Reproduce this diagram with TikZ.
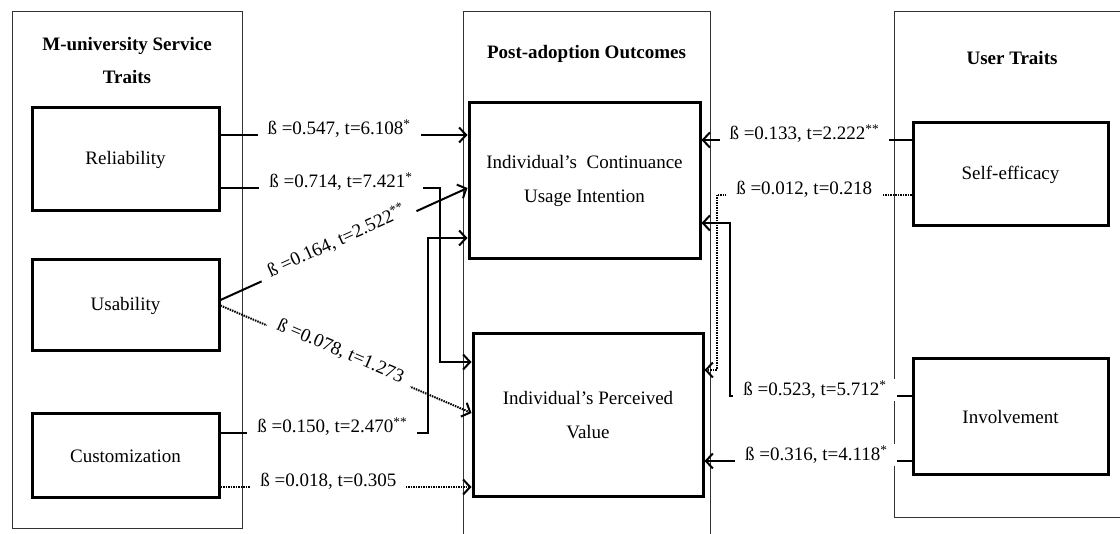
\documentclass[tikz,border=0pt]{standalone}
\usepackage{fontspec}
\setmainfont{Liberation Serif}
\usetikzlibrary{positioning, arrows.meta}

\begin{document}
\begin{tikzpicture}[x=1pt, y=-1pt, >={Straight Barb[length=7pt,width=15pt]},
  grp/.style={draw=black!80, line width=1pt, inner sep=0pt},
  ttl/.style={align=center, font=\bfseries\fontsize{19}{33}\selectfont},
  trait/.style={draw, line width=3pt, align=center, font=\fontsize{19}{34}\selectfont},
  lnk/.style={line width=2pt},
  weak/.style={line width=2pt, dash pattern=on 1.5pt off 1pt},
  lab/.style={fill=white, anchor=base, inner xsep=10pt, inner ysep=2pt, font=\fontsize{19}{22}\selectfont}]
\useasboundingbox (0,0) rectangle (1120,534);
\node[grp, minimum width=230pt, minimum height=517pt] (svc) at (127,270.5) {};
\node[grp, minimum width=247pt, minimum height=533pt] (out) at (586.5,278.5) {};
\node[grp, minimum width=236pt, minimum height=506pt] (usr) at (1012,265) {};
\node[ttl, below=22pt of svc.north] (svc_t) {M-university Service\\Traits};
\node[ttl, below=30pt of out.north] (out_t) {Post-adoption Outcomes};
\node[ttl, below=36pt of usr.north] (usr_t) {User Traits};
\node[trait, minimum width=187pt, minimum height=103pt] (rel) at (125.5,159.5) {Reliability};
\node[trait, minimum width=187pt, minimum height=91pt] (usa) at (125.5,305.5) {Usability};
\node[trait, minimum width=187pt, minimum height=84pt] (cus) at (125.5,456) {Customization};
\node[trait, minimum width=231pt, minimum height=156pt] (cont) at (584.5,181) {Individual’s\ \ Continuance\\Usage Intention};
\node[trait, minimum width=230pt, minimum height=163pt] (val) at (588,415.5) {Individual’s Perceived\\Value};
\node[trait, minimum width=195pt, minimum height=103pt] (self) at (1010.5,174.5) {Self-efficacy};
\node[trait, minimum width=195pt, minimum height=116pt] (inv) at (1010.5,417) {Involvement};
\draw[lnk,->] ([yshift=24.5pt]rel.east) coordinate (r1) -- node[lab, pos=.48] {ß =0.547, t=6.108\textsuperscript{*}} (r1 -| cont.west);
\draw[lnk,->] ([yshift=-28.5pt]rel.east) -- node[lab, pos=.55] {ß =0.714, t=7.421\textsuperscript{*}} ++(219,0) |- ([yshift=53.5pt]val.west);
\draw[lnk,->] ([yshift=5.5pt]usa.east) -- node[lab, sloped, pos=.48] {ß =0.164, t=2.522\textsuperscript{**}} ([yshift=-7pt]cont.west);
\draw[weak,->] (usa.east) -- node[lab, sloped, pos=.47] {ß =0.078, t=1.273} ([yshift=2.5pt]val.west);
\draw[lnk,->] ([yshift=23pt]cus.east) -- node[lab, pos=.54] {ß =0.150, t=2.470\textsuperscript{**}} ++(207,0) |- ([yshift=-57pt]cont.west);
\draw[weak,->] ([yshift=-31pt]cus.east) coordinate (c2) -- node[lab, pos=.43] {ß =0.018, t=0.305} (c2 -| val.west);
\draw[lnk,->] ([yshift=34.5pt]self.west) coordinate (s1) -- node[lab, pos=.51] {ß =0.133, t=2.222\textsuperscript{**}} (s1 -| cont.east);
\draw[weak,->] ([yshift=-20.5pt]self.west) -- node[lab, pos=.55] {ß =0.012, t=0.218} ++(-195,0) |- ([yshift=45.5pt]val.east);
\draw[lnk,->] ([yshift=21pt]inv.west) -- node[lab, pos=.53] {ß =0.523, t=5.712\textsuperscript{*}} ++(-182,0) |- ([yshift=-42pt]cont.east);
\draw[lnk,->] ([yshift=-44pt]inv.west) coordinate (i2) -- node[lab, pos=.46] {ß =0.316, t=4.118\textsuperscript{*}} (i2 -| val.east);
\end{tikzpicture}
\end{document}
